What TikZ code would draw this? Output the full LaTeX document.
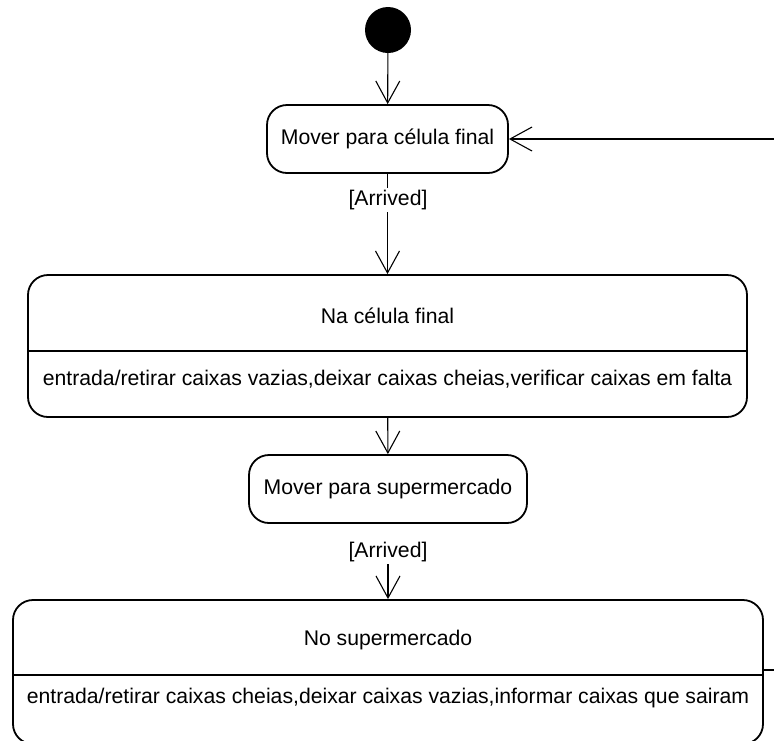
\documentclass[tikz,border=0pt]{standalone}
\usepackage{fontspec}
\setmainfont{Liberation Sans}
\usetikzlibrary{arrows.meta}
\begin{document}
\begin{tikzpicture}[x=1pt,y=-1pt,
  every node/.style={font=\fontsize{21.2}{25}\selectfont, inner sep=0pt},
  state/.style={draw, line width=1.8pt, rounded corners=20pt, fill=white},
  initial/.style={circle, fill=black, minimum size=46pt},
  flow/.style={line width=1.1pt, -{Straight Barb[length=22pt, width=24pt, line width=1.1pt]}},
  guard/.style={fill=white, inner sep=2pt},
  divider/.style={line width=1.8pt}]
\useasboundingbox (0,0) rectangle (774,740);
\clip (0,0) rectangle (774,740);

% initial pseudo-state
\node[initial] (start) at (388,30) {};

% simple states
\node[state, minimum width=241pt, minimum height=68pt] (moveCell) at (387.5,139) {Mover para célula final};
\node[state, minimum width=278pt, minimum height=68pt] (moveMarket) at (388,489) {Mover para supermercado};

% composite state: at the final cell
\node[state, minimum width=719pt, minimum height=142pt] (atCell) at (387.5,346) {};
\node (atCellName) at (387.5,316) {Na célula final};
\draw[divider] (atCell.west |- 0,351) -- (atCell.east |- 0,351);
\node (atCellDo) at (387.5,379) {entrada/retirar caixas vazias,deixar caixas cheias,verificar caixas em falta};

% composite state: at the supermarket
\node[state, minimum width=750pt, minimum height=144pt] (atMarket) at (388,672) {};
\node (atMarketName) at (388,640) {No supermercado};
\draw[divider] (atMarket.west |- 0,675) -- (atMarket.east |- 0,675);
\node (atMarketDo) at (388,698) {entrada/retirar caixas cheias,deixar caixas vazias,informar caixas que sairam};

% transitions
\draw[flow] (start) -- (moveCell);
\draw[flow] (moveCell) -- (atCell);
\node[guard] (arrived1) at (388,200) {[Arrived]};
\draw[flow] (atCell) -- (moveMarket);
\node[guard] (arrived2) at (388,552) {[Arrived]};
\draw[flow] (arrived2) -- (atMarket);

% loop back from the supermarket to the first state
\coordinate (loopIn) at (774,139);
\coordinate (loopOut) at (774,670);
\draw[flow] (loopIn) -- (moveCell.east);
\draw[line width=1.1pt] (atMarket.east |- loopOut) -- (loopOut);
\end{tikzpicture}
\end{document}
